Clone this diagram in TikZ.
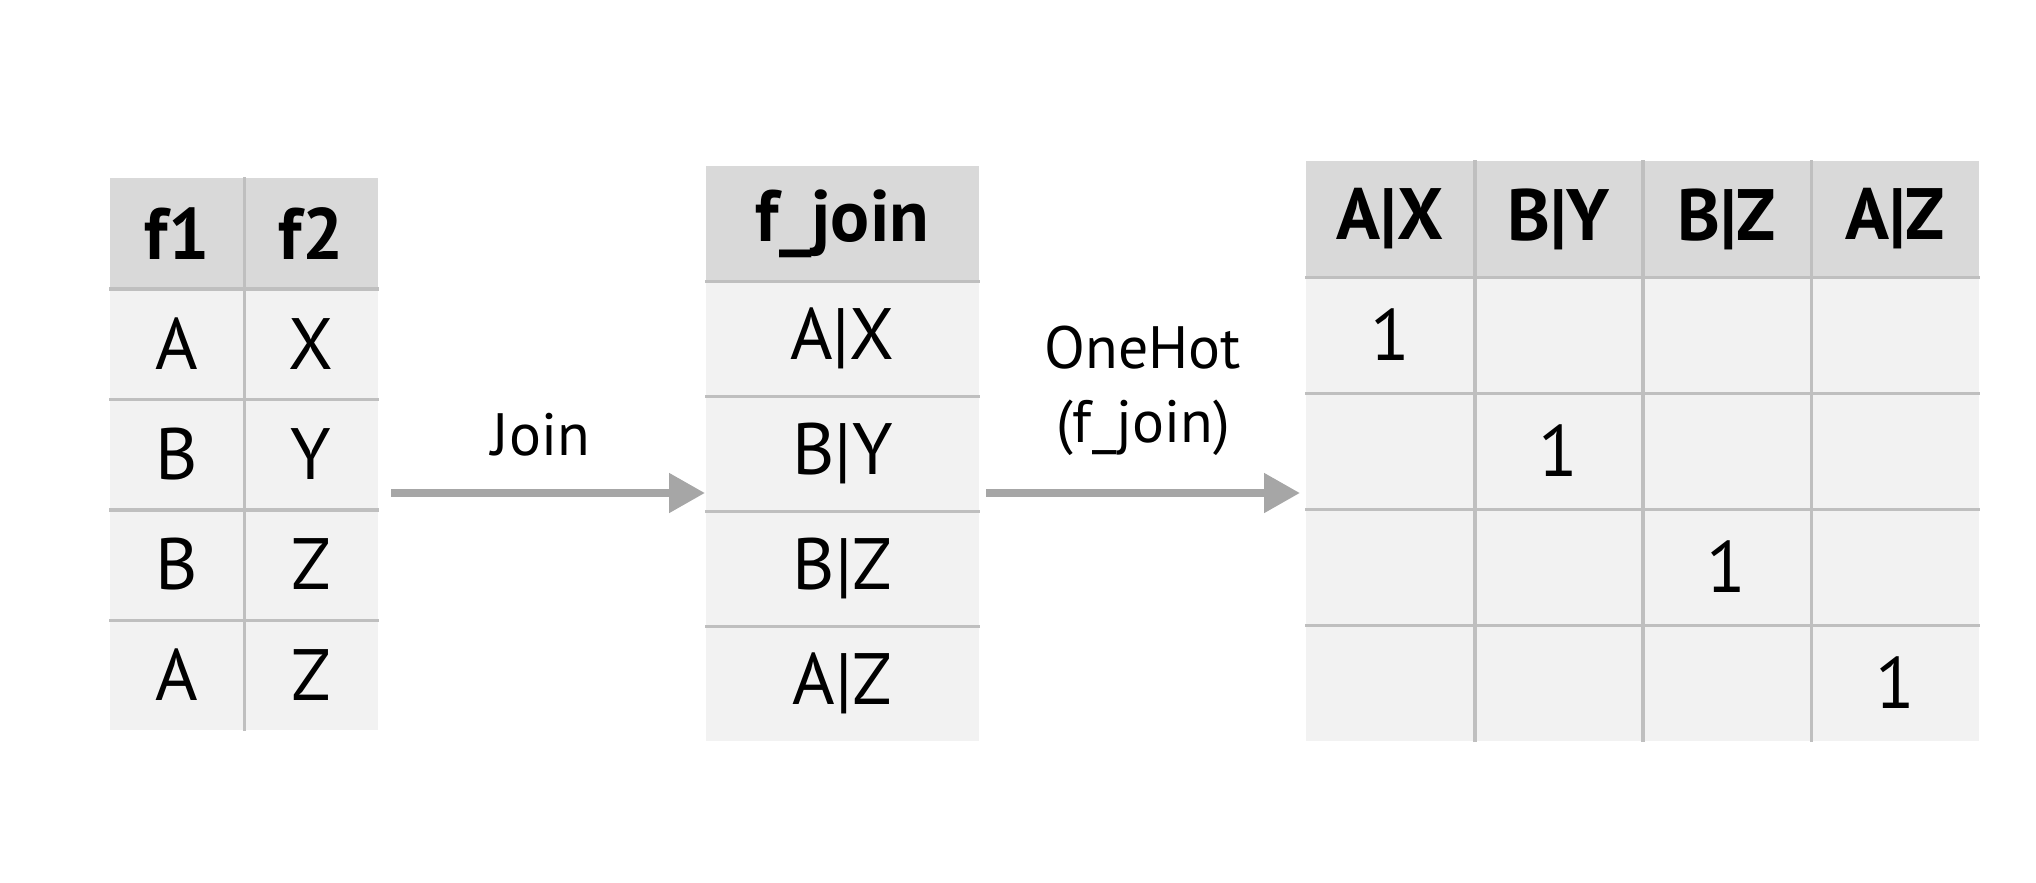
\documentclass[tikz,border=0pt]{standalone}
\usepackage{fontspec}
\setmainfont{PT Sans}
\usepackage{tikz}
\usetikzlibrary{arrows.meta}
\definecolor{headgray}{HTML}{D9D9D9}
\definecolor{cellgray}{HTML}{F2F2F2}
\definecolor{rulegray}{HTML}{BFBFBF}
\definecolor{arrowgray}{HTML}{A6A6A6}
\tikzstyle{headcell} = [rectangle, fill=headgray, inner sep=0pt, text centered, font=\bfseries\fontsize{20.7}{24}\selectfont]
\tikzstyle{bodycell} = [rectangle, fill=cellgray, inner sep=0pt, text centered, font=\fontsize{20.7}{24}\selectfont]
\tikzstyle{gridrule} = [rulegray, line width=0.35mm]
\tikzstyle{arrow} = [arrowgray, line width=0.8mm, -{Triangle[length=3.6mm,width=3.8mm]}]
\tikzstyle{oplabel} = [align=center, inner sep=0pt, font=\fontsize{17}{21}\selectfont]

\begin{document}
\begin{tikzpicture}[x=0.1mm, y=-0.1mm]
		\useasboundingbox (0,0) rectangle (2036,882);
		% first table: f1, f2
		\tikzset{every node/.append style={minimum width=13.4mm, minimum height=11.04mm}}
		\node (ta-h-1) [headcell] at (177,233.2) {f1};
		\node (ta-h-2) [headcell] at (311,233.2) {f2};
		\foreach \r/\y/\a/\b in {1/343.6/A/X, 2/454/B/Y, 3/564.4/B/Z, 4/674.8/A/Z} {
			\node (ta-\r-1) [bodycell] at (177,\y) {\a};
			\node (ta-\r-2) [bodycell] at (311,\y) {\b};
		}
		\foreach \r in {h,1,2,3}
			\draw [gridrule] (ta-\r-1.south west) -- (ta-\r-2.south east);
		\draw [gridrule] (ta-h-1.north east) -- (ta-4-1.south east);
		% second table: f_join
		\tikzset{every node/.append style={minimum width=27.3mm, minimum height=11.5mm}}
		\node (tb-h) [headcell] at (842.5,223.5) {f\_join};
		\foreach \r/\y/\v in {1/338.5/A|X, 2/453.5/B|Y, 3/568.5/B|Z, 4/683.5/A|Z}
			\node (tb-\r) [bodycell] at (842.5,\y) {\v};
		\foreach \r in {h,1,2,3}
			\draw [gridrule] (tb-\r.south west) -- (tb-\r.south east);
		% third table: one-hot columns
		\tikzset{every node/.append style={minimum width=16.825mm, minimum height=11.6mm}}
		\foreach \c/\x/\h in {1/1390.1/A|X, 2/1558.4/B|Y, 3/1726.6/B|Z, 4/1894.9/A|Z} {
			\node (tc-h-\c) [headcell] at (\x,219) {\h};
			\foreach \r/\y in {1/335, 2/451, 3/567, 4/683} {
				\ifnum\r=\c
					\node (tc-\r-\c) [bodycell] at (\x,\y) {1};
				\else
					\node (tc-\r-\c) [bodycell] at (\x,\y) {};
				\fi
			}
		}
		\foreach \r in {h,1,2,3}
			\draw [gridrule] (tc-\r-1.south west) -- (tc-\r-4.south east);
		\foreach \c in {1,2,3}
			\draw [gridrule] (tc-h-\c.north east) -- (tc-4-\c.south east);
		% arrows
		\tikzset{every node/.append style={minimum width=0pt, minimum height=0pt}}
		\coordinate (joinstart) at (391,493);
		\coordinate (joinend) at (705,493);
		\coordinate (hotstart) at (986,493);
		\coordinate (hotend) at (1300,493);
		\node (joinlbl) [oplabel] at (541,435) {Join};
		\node (hotlbl) [oplabel] at (1143,391) {OneHot\\(f\_join)};
		\draw [arrow] (joinstart) -- (joinend);
		\draw [arrow] (hotstart) -- (hotend);
\end{tikzpicture}
\end{document}
